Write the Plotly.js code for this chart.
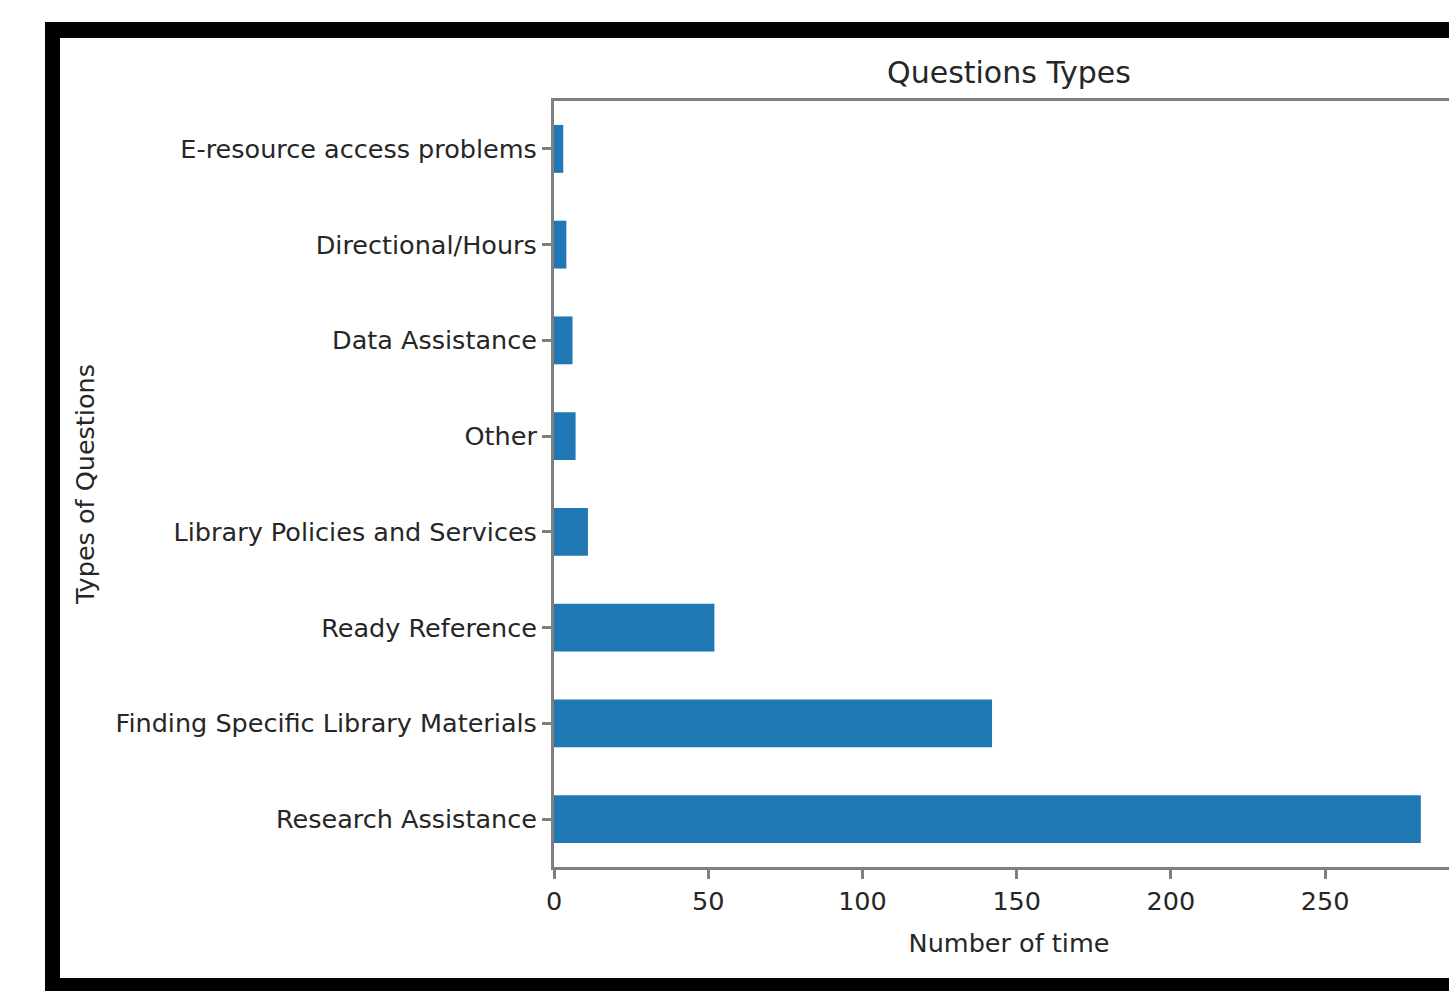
<!DOCTYPE html>
<html>
<head>
<meta charset="utf-8">
<script src="https://cdn.plot.ly/plotly-3.0.1.min.js"></script>
<style>
  html, body { margin: 0; padding: 0; overflow: hidden; background: #ffffff; width: 1449px; height: 991px; }
  #frame { position: absolute; left: 45px; top: 22px; width: 2000px; height: 969px; background: #000000; }
  #inner { position: absolute; left: 60px; top: 38px; width: 2000px; height: 940px; background: #ffffff; }
  #chart { position: absolute; left: 0; top: 0; width: 1500px; height: 991px; }
</style>
</head>
<body>
<div id="frame"></div>
<div id="inner"></div>
<div id="chart"></div>
<script>
const categories = [
  "Research Assistance",
  "Finding Specific Library Materials",
  "Ready Reference",
  "Library Policies and Services",
  "Other",
  "Data Assistance",
  "Directional/Hours",
  "E-resource access problems"
];
const counts = [281, 142, 52, 11, 7, 6, 4, 3];
const xTicks = [0, 50, 100, 150, 200, 250];

const fontFamily = "DejaVu Sans, sans-serif";
const textColor = "#262626";
const spineColor = "#7f7f7f";
const labelSize = 25.5;

const trace = {
  type: "bar",
  orientation: "h",
  x: counts,
  y: categories,
  width: 0.5,
  marker: { color: "#1f77b4", line: { width: 0 } },
  hoverinfo: "x+y"
};

const layout = {
  width: 1500,
  height: 991,
  margin: { l: 554, r: 36, t: 101, b: 124, pad: 0 },
  paper_bgcolor: "rgba(0,0,0,0)",
  plot_bgcolor: "rgba(0,0,0,0)",
  showlegend: false,
  font: { family: fontFamily, size: labelSize, color: textColor },
  title: {
    text: "Questions Types",
    font: { family: fontFamily, size: 30, color: textColor },
    x: 0.5, xref: "paper", xanchor: "center",
    y: 1 - 72 / 991, yref: "container", yanchor: "middle"
  },
  xaxis: {
    range: [0, 295],
    tickvals: xTicks,
    ticktext: xTicks.map(String),
    ticks: "outside", ticklen: 9, tickwidth: 3, tickcolor: spineColor,
    showline: true, linecolor: spineColor, linewidth: 3, mirror: true,
    showgrid: false, zeroline: false,
    tickfont: { family: fontFamily, size: labelSize, color: textColor },
    title: { text: "Number of time", font: { family: fontFamily, size: labelSize, color: textColor }, standoff: 20 },
    automargin: false
  },
  yaxis: {
    type: "category",
    categoryorder: "array",
    categoryarray: categories,
    range: [-0.5, 7.5],
    ticks: "outside", ticklen: 9, tickwidth: 3, tickcolor: spineColor,
    showline: true, linecolor: spineColor, linewidth: 3, mirror: true,
    showgrid: false, zeroline: false,
    tickfont: { family: fontFamily, size: labelSize, color: textColor },
    title: { text: "Types of Questions", font: { family: fontFamily, size: labelSize, color: textColor }, standoff: 14 },
    automargin: false
  }
};

Plotly.newPlot("chart", [trace], layout, { displayModeBar: false, staticPlot: true });
</script>
</body>
</html>
